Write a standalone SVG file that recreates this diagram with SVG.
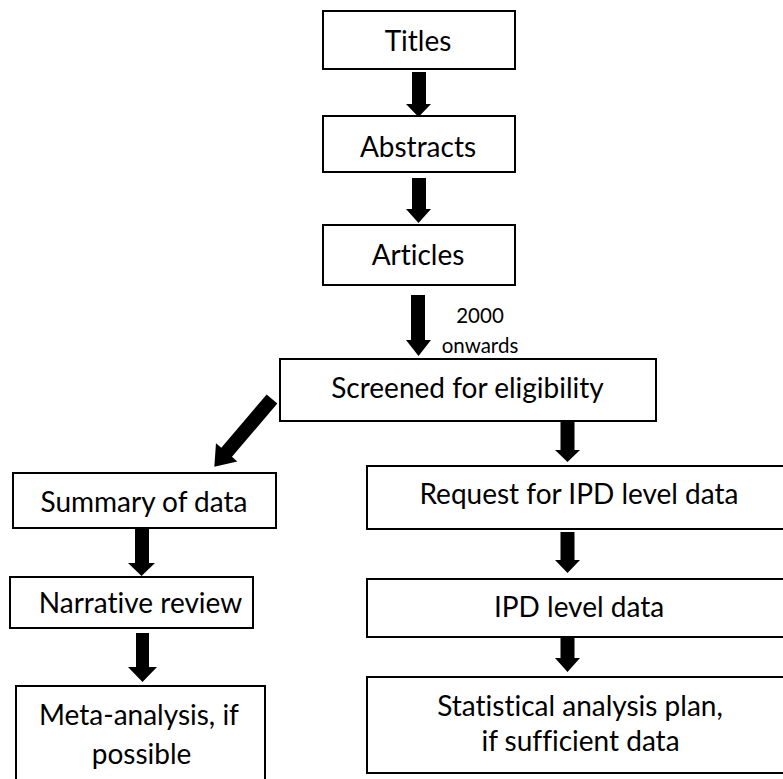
<svg xmlns="http://www.w3.org/2000/svg" width="783" height="779" viewBox="0 0 783 779">
<style>
.box{fill:#fff;stroke:#000;stroke-width:2}
.t{font-family:Lato,"Open Sans","Liberation Sans",sans-serif;font-size:28px;fill:#000;text-anchor:middle;font-variant-ligatures:none}
.s{font-family:Lato,"Open Sans","Liberation Sans",sans-serif;font-size:20.5px;fill:#000;text-anchor:middle;font-variant-ligatures:none}
.arr{fill:#000;stroke:none}
</style>
<rect width="783" height="779" fill="#fff"/>
<g id="connectors">
<polygon class="arr" points="412,72 426,72 426,104 431,104 418.5,117 406,104 412,104"/>
<polygon class="arr" points="412,178 426,178 426,209 431,209 418.5,223 406,209 412,209"/>
<polygon class="arr" points="411,295 425,295 425,340 431,340 418.5,356 406,340 411,340"/>
<polygon class="arr" points="560.5,422 574.5,422 574.5,450 580,450 567.5,462 555,450 560.5,450"/>
<polygon class="arr" points="560.5,532 574.5,532 574.5,560 580,560 567.5,573 555,560 560.5,560"/>
<polygon class="arr" points="560.5,632 574.5,632 574.5,658 580,658 567.5,672 555,658 560.5,658"/>
<polygon class="arr" points="135,528 149,528 149,563 155,563 141.5,576 128,563 135,563"/>
<polygon class="arr" points="136,633 149,633 149,667 157,667 142.5,682 128,667 136,667"/>
<polygon class="arr" transform="translate(272,399) rotate(40.4)" points="-7,0 7,0 7,70 14,70 0,89 -14,70 -7,70"/>
</g>
<g id="titles"><rect class="box" x="323" y="11" width="192" height="58"/><text class="t" x="418" y="51">Titles</text></g>
<g id="abstracts"><rect class="box" x="323" y="116" width="192" height="56"/><text class="t" x="418" y="157">Abstracts</text></g>
<g id="articles"><rect class="box" x="323" y="225" width="192" height="60"/><text class="t" x="418" y="265">Articles</text></g>
<g id="label-2000"><text class="s" x="480" y="323">2000</text><text class="s" x="480" y="353">onwards</text></g>
<g id="screened"><rect class="box" x="280" y="359" width="376" height="62"/><text class="t" x="467.5" y="398">Screened for eligibility</text></g>
<g id="summary"><rect class="box" x="13" y="473" width="263" height="55"/><text class="t" x="144" y="512">Summary of data</text></g>
<g id="narrative"><rect class="box" x="10" y="577" width="243" height="51"/><text class="t" x="140.5" y="613">Narrative review</text></g>
<g id="meta"><rect class="box" x="16" y="686" width="249" height="110"/><text class="t" x="139" y="725">Meta-analysis, if</text><text class="t" x="141.5" y="764">possible</text></g>
<g id="request"><rect class="box" x="367" y="466" width="430" height="63"/><text class="t" x="579" y="504">Request for IPD level data</text></g>
<g id="ipd"><rect class="box" x="367" y="579" width="430" height="58"/><text class="t" x="579" y="617">IPD level data</text></g>
<g id="stat"><rect class="box" x="367" y="677" width="430" height="96"/><text class="t" x="580" y="716">Statistical analysis plan,</text><text class="t" x="580.5" y="751">if sufficient data</text></g>
</svg>
